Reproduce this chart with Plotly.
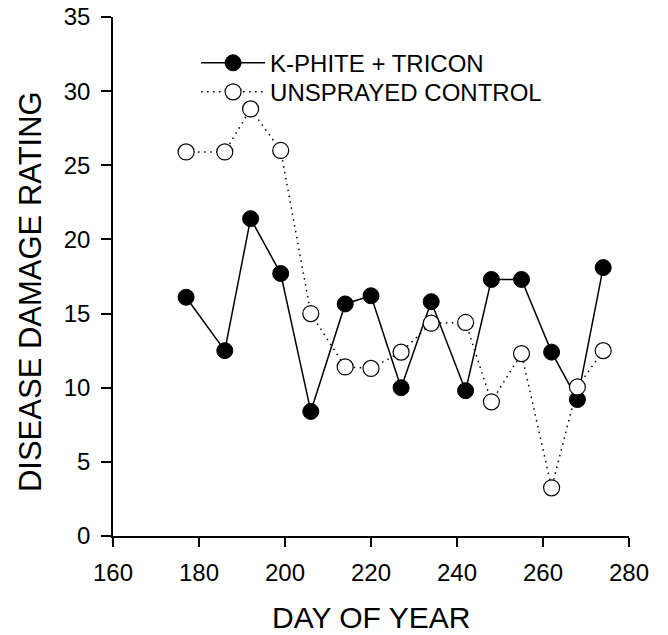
import plotly.graph_objects as go

days = [177, 186, 192, 199, 206, 214, 220, 227, 234, 242, 248, 255, 262, 268, 274]
kphite_tricon = [16.1, 12.5, 21.4, 17.7, 8.4, 15.65, 16.2, 10.0, 15.8, 9.8, 17.3, 17.3, 12.4, 9.2, 18.1]
unsprayed_control = [25.9, 25.9, 28.8, 26.0, 15.0, 11.4, 11.3, 12.4, 14.35, 14.4, 9.05, 12.3, 3.25, 10.05, 12.5]

x_ticks = [160, 180, 200, 220, 240, 260, 280]
y_ticks = [0, 5, 10, 15, 20, 25, 30, 35]

FONT = "Arial, Liberation Sans, sans-serif"

fig = go.Figure()
fig.add_trace(go.Scatter(
    x=days, y=kphite_tricon, mode="lines+markers", name="K-PHITE + TRICON",
    line=dict(color="black", width=1.5),
    marker=dict(symbol="circle", size=16, color="black", line=dict(color="black", width=1)),
    cliponaxis=False, legend="legend",
))
fig.add_trace(go.Scatter(
    x=days, y=unsprayed_control, mode="lines+markers", name="UNSPRAYED CONTROL",
    line=dict(color="black", width=1.5, dash="1.5px,4.5px"),
    marker=dict(symbol="circle", size=16, color="white", line=dict(color="black", width=1.2)),
    cliponaxis=False, legend="legend2",
))

leg_common = dict(
    xanchor="left", yanchor="middle",
    bgcolor="rgba(0,0,0,0)", borderwidth=0,
    font=dict(family=FONT, size=24, color="black"),
    itemwidth=64,
)

fig.update_layout(
    width=668, height=635,
    margin=dict(l=113, r=39, t=17, b=99),
    paper_bgcolor="white", plot_bgcolor="white",
    font=dict(family=FONT, size=24, color="black"),
    showlegend=True,
    legend=dict(x=0.161, y=0.911, **leg_common),
    legend2=dict(x=0.161, y=0.855, **leg_common),
    xaxis=dict(
        range=[160, 280], tickvals=x_ticks, ticktext=[str(v) for v in x_ticks],
        showgrid=False, zeroline=False, showline=True, linecolor="black", linewidth=1.5,
        ticks="outside", ticklen=9, tickwidth=1.5, tickcolor="black",
        tickfont=dict(family=FONT, size=24, color="black"),
        ticklabelstandoff=5,
        automargin=False,
    ),
    yaxis=dict(
        range=[0, 35], tickvals=y_ticks, ticktext=[str(v) for v in y_ticks],
        showgrid=False, zeroline=False, showline=True, linecolor="black", linewidth=1.5,
        ticks="outside", ticklen=10, tickwidth=1.5, tickcolor="black",
        tickfont=dict(family=FONT, size=24, color="black"),
        ticklabelstandoff=6,
        automargin=False,
    ),
    annotations=[
        dict(
            text="DISEASE DAMAGE RATING", textangle=-90, showarrow=False,
            xref="paper", yref="paper", x=0, y=0.47, xanchor="center", yanchor="middle",
            xshift=-83, font=dict(family=FONT, size=31, color="black"),
        ),
        dict(
            text="DAY OF YEAR", showarrow=False,
            xref="paper", yref="paper", x=0.5, y=0, xanchor="center", yanchor="middle",
            yshift=-81, font=dict(family=FONT, size=30, color="black"),
        ),
    ],
)

fig.write_html("out.html")
